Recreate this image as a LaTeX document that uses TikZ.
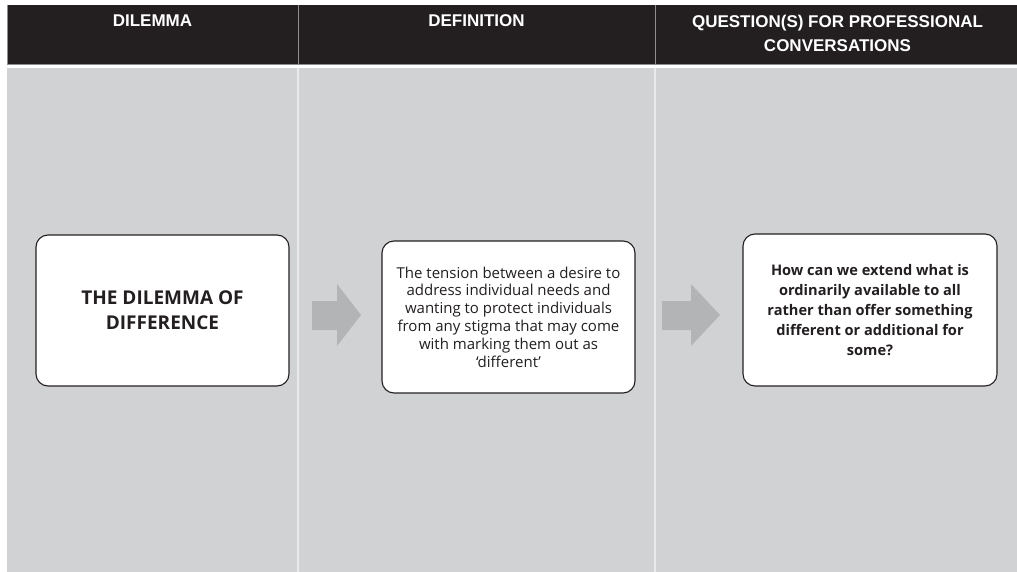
\documentclass[tikz,border=0pt]{standalone}
\usepackage{fontspec}
\setmainfont{Open Sans}
\newfontfamily\hdrfont{Liberation Sans}
\definecolor{hdrblack}{HTML}{231F20}
\definecolor{panelgrey}{HTML}{D1D2D4}
\definecolor{divline}{HTML}{E9EAEB}
\definecolor{hdrdiv}{HTML}{8E8E90}
\definecolor{arrowgrey}{HTML}{B3B4B6}
\tikzset{
  hdrtext/.style={text=white, font=\hdrfont\bfseries\fontsize{17}{24}\selectfont, align=center, inner sep=0pt},
  cardbox/.style={draw=hdrblack, line width=1.1pt, fill=white, rounded corners=12pt, inner sep=0pt, align=center, text=hdrblack},
  blockarrow/.style={fill=arrowgrey}
}
\begin{document}
\begin{tikzpicture}[x=1pt,y=-1pt]
\useasboundingbox (0,0) rectangle (1017,572);
\fill[white] (0,0) rectangle (1017,572);
% panels
\fill[panelgrey] (7,68) rectangle (1017,572);
\fill[hdrblack] (7,5) rectangle (1017,64);
\draw[hdrdiv, line width=0.8pt] (7,64) -- (1017,64);
\draw[hdrdiv, line width=0.8pt] (7,5) -- (7,64);
\draw[hdrdiv, line width=0.8pt] (298,5) -- (298,64);
\draw[hdrdiv, line width=0.8pt] (655,5) -- (655,64);
\draw[divline, line width=2pt] (298,68) -- (298,572);
\draw[divline, line width=2pt] (655,68) -- (655,572);
% header texts
\node[hdrtext] (h1) at (152.5,21) {DILEMMA};
\node[hdrtext] (h2) at (476.5,21) {DEFINITION};
\node[hdrtext] (h3) at (837.5,33) {QUESTION(S) FOR PROFESSIONAL\\CONVERSATIONS};
% boxes
\node[cardbox, minimum width=253pt, minimum height=151pt,
      font=\bfseries\fontsize{19}{25}\selectfont] (dilemma) at (162.5,310.5)
      {THE DILEMMA OF\\DIFFERENCE};
\node[cardbox, minimum width=253pt, minimum height=152pt,
      font=\fontsize{15}{17.8}\selectfont] (definition) at (508.5,317)
      {The tension between a desire to\\address individual needs and\\wanting to protect individuals\\from any stigma that may come\\with marking them out as\\‘different’};
\node[cardbox, minimum width=254pt, minimum height=152pt,
      font=\bfseries\fontsize{14.6}{20.2}\selectfont] (question) at (870,310)
      {How can we extend what is\\ordinarily available to all\\rather than offer something\\different or additional for\\some?};
% block arrows
\fill[blockarrow] (312,301) -- (337,301) -- (337,284) -- (361,315) -- (337,346) -- (337,330) -- (312,330) -- cycle;
\fill[blockarrow] (662,301) -- (691,301) -- (691,284) -- (720,315) -- (691,346) -- (691,330) -- (662,330) -- cycle;
\end{tikzpicture}
\end{document}
